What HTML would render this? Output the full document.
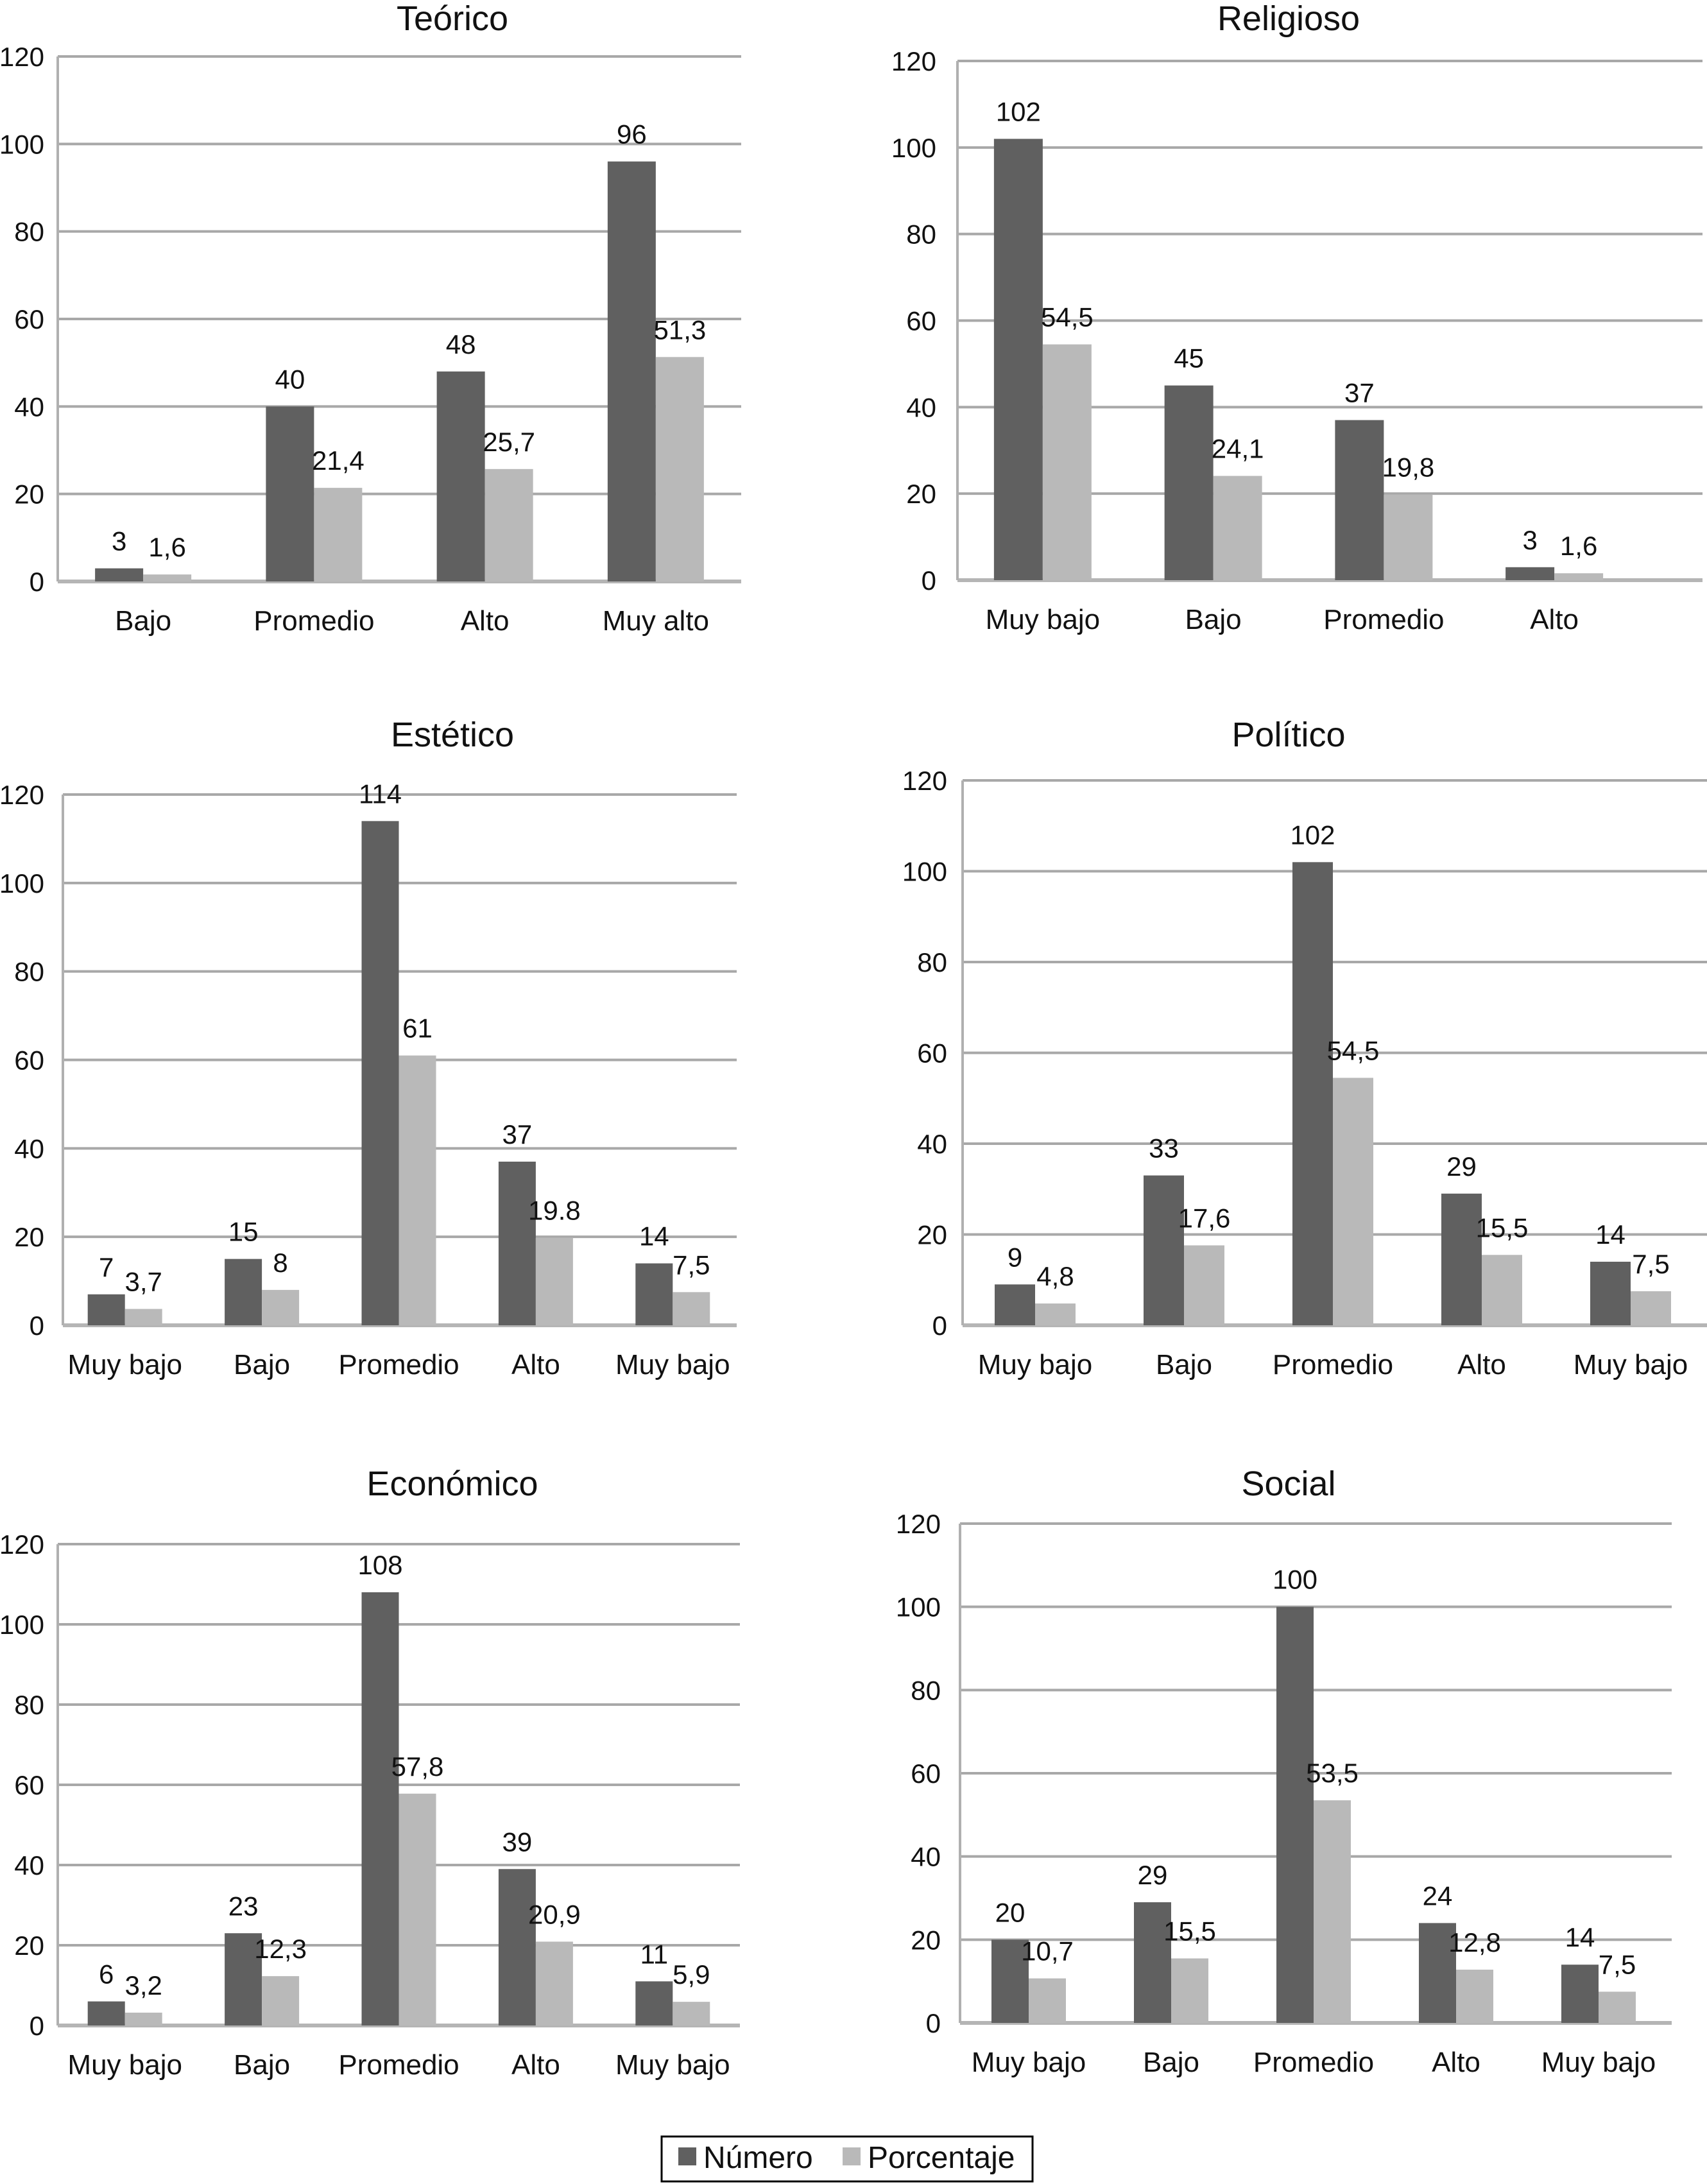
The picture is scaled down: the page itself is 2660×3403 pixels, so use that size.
<!DOCTYPE html>
<html><head><meta charset="utf-8">
<style>
html,body{margin:0;padding:0;background:#fff;}
svg{display:block;font-family:"Liberation Sans",Arial,sans-serif;}
</style></head>
<body>
<svg id="fig" width="2660" height="3403" viewBox="0 0 2660 3403" xmlns="http://www.w3.org/2000/svg">
<g id="charts"></g>
<g>
  <rect x="1031" y="3329" width="578" height="70" fill="#fff" stroke="#000" stroke-width="3"/>
  <rect x="1057" y="3346" width="28" height="28" fill="#606060"/>
  <text x="1096" y="3378" font-size="48" fill="#111">Número</text>
  <rect x="1313" y="3346" width="28" height="28" fill="#b9b9b9"/>
  <text x="1352" y="3378" font-size="48" fill="#111">Porcentaje</text>
</g>
</svg>
<script>
// ---- data ----
const teoricoCats = ["Bajo","Promedio","Alto","Muy alto"];
const teoricoNum = [3,40,48,96];
const teoricoPct = [1.6,21.4,25.7,51.3];
const teoricoPctLabels = ["1,6","21,4","25,7","51,3"];

const religiosoCats = ["Muy bajo","Bajo","Promedio","Alto"];
const religiosoNum = [102,45,37,3];
const religiosoPct = [54.5,24.1,19.8,1.6];
const religiosoPctLabels = ["54,5","24,1","19,8","1,6"];

const esteticoCats = ["Muy bajo","Bajo","Promedio","Alto","Muy bajo"];
const esteticoNum = [7,15,114,37,14];
const esteticoPct = [3.7,8,61,19.8,7.5];
const esteticoPctLabels = ["3,7","8","61","19.8","7,5"];

const politicoCats = ["Muy bajo","Bajo","Promedio","Alto","Muy bajo"];
const politicoNum = [9,33,102,29,14];
const politicoPct = [4.8,17.6,54.5,15.5,7.5];
const politicoPctLabels = ["4,8","17,6","54,5","15,5","7,5"];

const economicoCats = ["Muy bajo","Bajo","Promedio","Alto","Muy bajo"];
const economicoNum = [6,23,108,39,11];
const economicoPct = [3.2,12.3,57.8,20.9,5.9];
const economicoPctLabels = ["3,2","12,3","57,8","20,9","5,9"];

const socialCats = ["Muy bajo","Bajo","Promedio","Alto","Muy bajo"];
const socialNum = [20,29,100,24,14];
const socialPct = [10.7,15.5,53.5,12.8,7.5];
const socialPctLabels = ["10,7","15,5","53,5","12,8","7,5"];

const yTicks = [0,20,40,60,80,100,120];
const yMax = 120;

// ---- layout (not data) ----
const charts = [
 {key:"teorico",title:"Teórico",cats:teoricoCats,num:teoricoNum,pct:teoricoPct,pl:teoricoPctLabels,
  gx0:90,gx1:1155,bx0:90,bx1:1155,y0:906,y1:88,bw:75,tx:705,ty:47,lx:69},
 {key:"religioso",title:"Religioso",cats:religiosoCats,num:religiosoNum,pct:religiosoPct,pl:religiosoPctLabels,
  gx0:1492,gx1:2653,bx0:1492,bx1:2555,y0:904,y1:95,bw:76,tx:2008,ty:47,lx:1459},
 {key:"estetico",title:"Estético",cats:esteticoCats,num:esteticoNum,pct:esteticoPct,pl:esteticoPctLabels,
  gx0:98,gx1:1148,bx0:88,bx1:1155,y0:2065,y1:1238,bw:58,tx:705,ty:1163,lx:69},
 {key:"politico",title:"Político",cats:politicoCats,num:politicoNum,pct:politicoPct,pl:politicoPctLabels,
  gx0:1500,gx1:2660,bx0:1497,bx1:2657,y0:2065,y1:1216,bw:63,tx:2008,ty:1163,lx:1476},
 {key:"economico",title:"Económico",cats:economicoCats,num:economicoNum,pct:economicoPct,pl:economicoPctLabels,
  gx0:90,gx1:1153,bx0:88,bx1:1155,y0:3156,y1:2406,bw:58,tx:705,ty:2330,lx:69},
 {key:"social",title:"Social",cats:socialCats,num:socialNum,pct:socialPct,pl:socialPctLabels,
  gx0:1496,gx1:2605,bx0:1492,bx1:2602,y0:3152,y1:2374,bw:58,tx:2008,ty:2330,lx:1466}
];

const NS="http://www.w3.org/2000/svg";
const root=document.getElementById("charts");
function mk(tag,attrs,parent){const e=document.createElementNS(NS,tag);for(const k in attrs)e.setAttribute(k,attrs[k]);parent.appendChild(e);return e;}

charts.forEach(c=>{
  const g=mk("g",{},root);
  
  
  const yS=v=>c.y0-(v/yMax)*(c.y0-c.y1);
  const band=(c.bx1-c.bx0)/c.cats.length;
  const xC=i=>c.bx0+(i+0.5)*band;

  const t=mk("text",{x:c.tx,y:c.ty,"font-size":54,"text-anchor":"middle",fill:"#111"},g);
  t.textContent=c.title;
  
  

  yTicks.forEach(v=>{
    const y=yS(v);
    const ln=mk("line",{x1:c.gx0,x2:c.gx1,y1:y,y2:y,stroke:v===0?"#b5b5b5":"#a8a8a8","stroke-width":v===0?6:4},g);
    
    
    const tl=mk("text",{x:c.lx,y:y+15,"font-size":42,"text-anchor":"end",fill:"#111"},g);
    tl.textContent=String(v);
    
    
  });
  const ax=mk("line",{x1:c.gx0,x2:c.gx0,y1:c.y1,y2:c.y0,stroke:"#b0b0b0","stroke-width":4},g);
  
  

  c.cats.forEach((cat,i)=>{
    const cx=xC(i);
    const yn=yS(c.num[i]), yp=yS(c.pct[i]);
    const b1=mk("rect",{x:cx-c.bw,y:yn,width:c.bw,height:c.y0-yn,fill:"#606060"},g);
    
    
    const b2=mk("rect",{x:cx,y:yp,width:c.bw,height:c.y0-yp,fill:"#b9b9b9"},g);
    
    
    const l1=mk("text",{x:cx-c.bw/2,y:yn-28,"font-size":42,"text-anchor":"middle",fill:"#111"},g);
    l1.textContent=String(c.num[i]);
    
    
    const l2=mk("text",{x:cx+c.bw/2,y:yp-28,"font-size":42,"text-anchor":"middle",fill:"#111"},g);
    l2.textContent=c.pl[i];
    
    
    const cl=mk("text",{x:cx,y:c.y0+76,"font-size":44,"text-anchor":"middle",fill:"#111"},g);
    cl.textContent=cat;
    
    
  });
});
</script>
</body></html>
